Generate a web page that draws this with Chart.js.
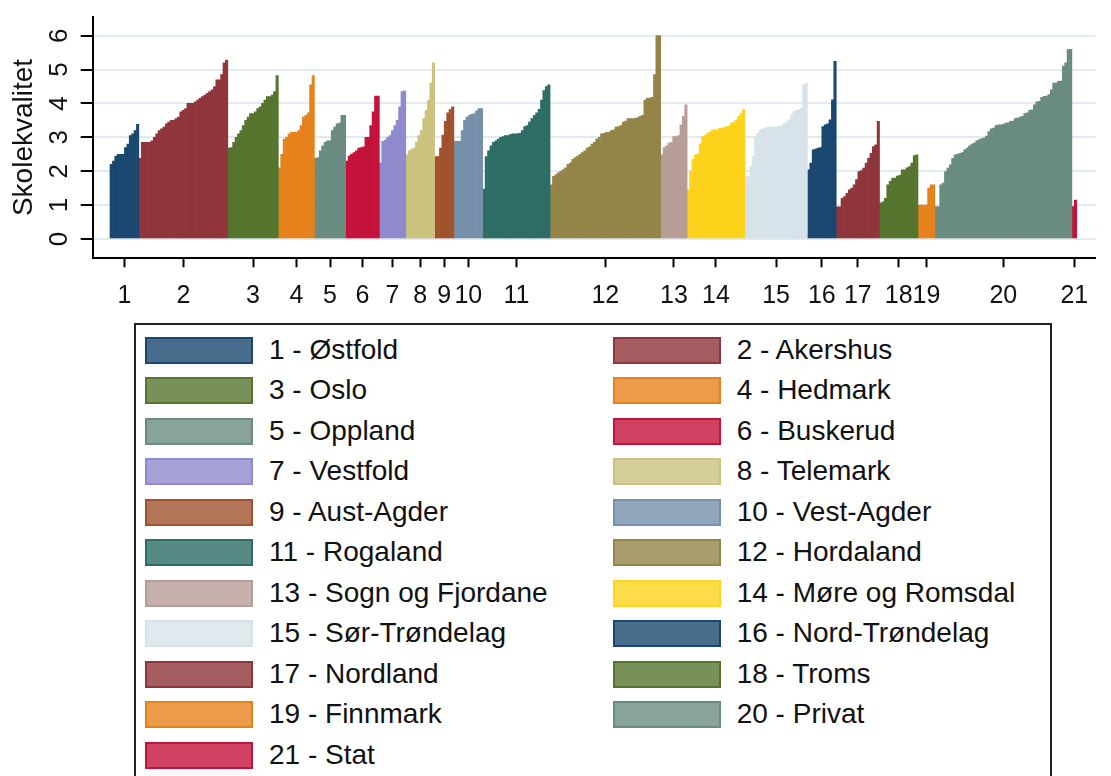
<!DOCTYPE html>
<html><head><meta charset="utf-8">
<script src="https://cdn.jsdelivr.net/npm/chart.js@4.4.1/dist/chart.umd.min.js"></script>
<style>
html,body{margin:0;padding:0;background:#fff;width:1111px;height:776px;overflow:hidden;font-family:"Liberation Sans",Arial,sans-serif;}
#wrap{position:absolute;left:0;top:0;width:1111px;height:320px;}
#legend{position:absolute;left:134px;top:323px;width:918px;height:480px;border:2px solid #222;box-sizing:border-box;background:#fff;}
.item{position:absolute;height:27px;}
.sw{position:absolute;left:0;top:0;width:108px;height:27px;box-sizing:border-box;border:2px solid;}
.lab{position:absolute;left:124px;top:-4px;font-size:28px;line-height:34px;color:#111;white-space:nowrap;}
</style></head>
<body>
<div id="wrap"><canvas id="c"></canvas></div>
<div id="legend"></div>
<script>
const countyNames = ["1 - Østfold","2 - Akershus","3 - Oslo","4 - Hedmark","5 - Oppland","6 - Buskerud","7 - Vestfold","8 - Telemark","9 - Aust-Agder","10 - Vest-Agder","11 - Rogaland","12 - Hordaland","13 - Sogn og Fjordane","14 - Møre og Romsdal","15 - Sør-Trøndelag","16 - Nord-Trøndelag","17 - Nordland","18 - Troms","19 - Finnmark","20 - Privat","21 - Stat"];
const tickLabels = ["1","2","3","4","5","6","7","8","9","10","11","12","13","14","15","16","17","18","19","20","21"];
const yTicks = [0,1,2,3,4,5,6];
const colors = ["#1a476f","#90353b","#55752f","#e6821c","#6a8c80","#c5123a","#8f8ace","#cac27e","#a0522d","#7690aa","#2d6d66","#938548","#b89d97","#fdd31c","#d7e3ea","#1a476f","#90353b","#55752f","#e6821c","#6a8c80","#c5123a"];

const ostfold = [2.2,2.3,2.45,2.5,2.5,2.5,2.7,2.8,3.05,3.1,3.2,3.38];
const akershus = [2.38,2.85,2.85,2.85,2.85,2.9,3.0,3.1,3.2,3.25,3.3,3.4,3.45,3.5,3.5,3.55,3.6,3.75,3.8,3.85,4.0,4.0,4.0,4.05,4.1,4.15,4.2,4.25,4.3,4.35,4.4,4.5,4.7,4.7,4.85,5.2,5.28];
const oslo = [2.68,2.7,2.85,3.0,3.1,3.2,3.35,3.5,3.6,3.7,3.7,3.75,3.85,3.9,4.0,4.1,4.2,4.2,4.25,4.35,4.82];
const hedmark = [2.1,2.5,2.95,3.0,3.1,3.15,3.15,3.15,3.2,3.35,3.6,3.65,3.72,4.55,4.82];
const oppland = [2.38,2.4,2.6,2.75,2.85,2.9,2.9,3.2,3.3,3.4,3.42,3.65,3.65];
const buskerud = [2.3,2.45,2.5,2.55,2.6,2.68,2.7,2.72,3.0,3.0,3.35,3.75,4.22,4.22];
const vestfold = [2.25,2.88,2.92,3.0,3.05,3.2,3.35,3.5,3.9,4.35,4.37];
const telemark = [2.48,2.6,2.65,2.68,2.85,3.05,3.2,3.55,3.8,4.1,4.6,5.2];
const austAgder = [2.43,2.43,2.68,3.07,3.47,3.72,3.82,3.9];
const vestAgder = [2.88,2.88,2.88,3.2,3.5,3.6,3.65,3.68,3.7,3.78,3.85,3.85];
const rogaland = [1.47,2.43,2.6,2.75,2.85,2.9,2.95,3.0,3.02,3.05,3.05,3.08,3.1,3.1,3.1,3.12,3.2,3.32,3.35,3.45,3.55,3.65,3.72,3.83,4.1,4.38,4.5,4.55];
const hordaland = [1.6,1.85,1.9,1.95,2.0,2.05,2.1,2.2,2.25,2.35,2.4,2.45,2.5,2.55,2.6,2.68,2.72,2.8,2.85,2.95,3.0,3.1,3.12,3.15,3.15,3.2,3.22,3.3,3.32,3.35,3.45,3.48,3.55,3.55,3.55,3.56,3.58,3.62,3.65,4.1,4.15,4.16,4.18,4.85,6.0,6.0];
const sognFjordane = [2.48,2.7,2.75,2.83,2.85,3.02,3.02,3.05,3.37,3.62,3.96];
const moreRomsdal = [1.45,2.0,2.35,2.48,2.5,2.8,3.02,3.05,3.12,3.15,3.22,3.22,3.22,3.27,3.27,3.3,3.32,3.33,3.42,3.45,3.52,3.62,3.7,3.82];
const sorTrondelag = [1.84,1.84,2.14,2.43,3.02,3.12,3.22,3.25,3.27,3.3,3.3,3.3,3.3,3.32,3.33,3.35,3.42,3.45,3.52,3.67,3.76,3.8,3.82,3.85,4.55,4.6];
const nordTrondelag = [2.04,2.24,2.63,2.65,2.68,2.7,3.32,3.37,3.4,3.52,4.11,5.24];
const nordland = [0.95,0.95,1.2,1.25,1.35,1.45,1.5,1.6,1.75,1.99,2.02,2.09,2.24,2.38,2.53,2.73,2.78,3.47];
const troms = [1.07,1.1,1.2,1.6,1.7,1.79,1.8,1.86,1.88,2.04,2.04,2.1,2.14,2.24,2.46,2.48];
const finnmark = [1.0,1.0,1.0,1.0,1.5,1.6,1.6];
const privat = [0.96,0.96,1.6,1.65,1.99,2.09,2.19,2.38,2.48,2.5,2.53,2.55,2.63,2.68,2.75,2.8,2.83,2.9,2.93,2.96,2.98,3.04,3.17,3.25,3.27,3.35,3.37,3.37,3.38,3.42,3.43,3.47,3.48,3.55,3.57,3.6,3.62,3.7,3.72,3.8,3.81,3.96,4.05,4.06,4.18,4.21,4.22,4.26,4.4,4.6,4.6,4.65,4.66,5.1,5.2,5.59,5.6];
const stat = [0.96,1.15];

const seriesValues = [ostfold,akershus,oslo,hedmark,oppland,buskerud,vestfold,telemark,austAgder,vestAgder,rogaland,hordaland,sognFjordane,moreRomsdal,sorTrondelag,nordTrondelag,nordland,troms,finnmark,privat,stat];

const FONT = "'Liberation Sans', Arial, sans-serif";
let offset = 0;
const centers = [];
const datasets = seriesValues.map((vals, k) => {
  const start = offset;
  centers.push(start + (vals.length - 1) / 2);
  offset += vals.length;
  return {
    label: countyNames[k],
    data: vals.map((v, i) => ({x: start + i, y: v})),
    backgroundColor: colors[k],
    borderWidth: 0,
    grouped: false,
    barPercentage: 1,
    categoryPercentage: 1
  };
});
const total = offset;

const chart = new Chart(document.getElementById('c'), {
  type: 'bar',
  data: {datasets},
  options: {
    responsive: true,
    maintainAspectRatio: false,
    animation: false,
    layout: {autoPadding: false, padding: {top: 16.7, right: 15.3, left: 0, bottom: 0}},
    plugins: {legend: {display: false}, tooltip: {enabled: false}},
    scales: {
      x: {
        type: 'linear',
        min: -7.69,
        max: total - 1 + 8.4,
        offset: false,
        grid: {offset: false, drawOnChartArea: false, drawTicks: true, tickLength: 9, tickColor: '#000', tickWidth: 2},
        border: {display: true, color: '#000', width: 2},
        ticks: {autoSkip: false, maxRotation: 0, minRotation: 0, padding: 14, color: '#111',
                font: {family: FONT, size: 25},
                callback: (v, i) => tickLabels[i]},
        afterBuildTicks: s => { s.ticks = centers.map(v => ({value: v})); },
        afterFit: s => { s.height = 61.7; s.paddingLeft = 0; s.paddingRight = 0; }
      },
      y: {
        type: 'linear',
        min: -0.57,
        max: 6.56,
        grid: {color: '#e2ebf0', lineWidth: 2, drawTicks: true, tickLength: 12, tickColor: '#000', tickWidth: 2},
        border: {display: true, color: '#000', width: 2},
        ticks: {minRotation: 90, maxRotation: 90, crossAlign: 'center', padding: 14, color: '#111',
                font: {family: FONT, size: 26},
                callback: v => String(v)},
        afterBuildTicks: s => { s.ticks = yTicks.map(v => ({value: v})); },
        title: {display: true, text: 'Skolekvalitet', color: '#111', font: {family: FONT, size: 28}, padding: {top: 7, bottom: 0}},
        afterFit: s => { s.width = 92.7; s.paddingTop = 0; s.paddingBottom = 0; }
      }
    }
  }
});

function lighten(hex, f) {
  const n = parseInt(hex.slice(1), 16);
  const r = (n >> 16) & 255, g = (n >> 8) & 255, b = n & 255;
  const m = c => Math.round(c * (1 - f) + 255 * f);
  return `rgb(${m(r)},${m(g)},${m(b)})`;
}
const legend = document.getElementById('legend');
chart.data.datasets.forEach((ds, k) => {
  const row = Math.floor(k / 2), col = k % 2;
  const item = document.createElement('div');
  item.className = 'item';
  item.style.left = (col === 0 ? 9 : 476.7) + 'px';
  item.style.top = (11.7 + row * 40.5) + 'px';
  const sw = document.createElement('div');
  sw.className = 'sw';
  sw.style.background = lighten(ds.backgroundColor, 0.2);
  sw.style.borderColor = ds.backgroundColor;
  const lab = document.createElement('div');
  lab.className = 'lab';
  lab.textContent = ds.label;
  item.appendChild(sw); item.appendChild(lab);
  legend.appendChild(item);
});
</script>
</body></html>
